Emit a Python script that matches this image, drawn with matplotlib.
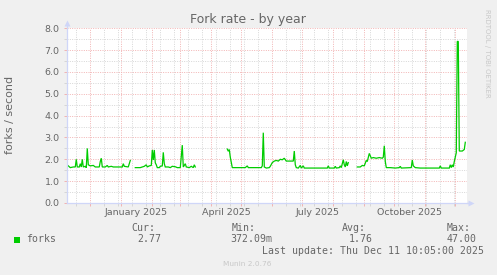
import numpy as np
import pandas as pd
import matplotlib
matplotlib.use("Agg")
import matplotlib.pyplot as plt
import matplotlib.dates as mdates
from matplotlib.patches import Rectangle

# ── data ───────────────────────────────────────────────────────────────
nan = np.nan
days = [
    "2024-11-08", "2024-11-11", "2024-11-14", "2024-11-16", "2024-11-17", "2024-11-18",
    "2024-11-20", "2024-11-21", "2024-11-22", "2024-11-23", "2024-11-24", "2024-11-26",
    "2024-11-27", "2024-11-28", "2024-11-29", "2024-12-01", "2024-12-04", "2024-12-06",
    "2024-12-10", "2024-12-11", "2024-12-12", "2024-12-13", "2024-12-16", "2024-12-18",
    "2024-12-19", "2024-12-22", "2024-12-24", "2025-01-02", "2025-01-03", "2025-01-04",
    "2025-01-08", "2025-01-10", "2025-01-12",
    "2025-01-15", "2025-01-20", "2025-01-24", "2025-01-26", "2025-01-27", "2025-01-29",
    "2025-01-31", "2025-02-01", "2025-02-02", "2025-02-03", "2025-02-04", "2025-02-05",
    "2025-02-06", "2025-02-08", "2025-02-09", "2025-02-11", "2025-02-12", "2025-02-13",
    "2025-02-14", "2025-02-17", "2025-02-19", "2025-02-21", "2025-02-24", "2025-02-26",
    "2025-03-01", "2025-03-03", "2025-03-04", "2025-03-06", "2025-03-07", "2025-03-10",
    "2025-03-12", "2025-03-14", "2025-03-15", "2025-03-16", "2025-03-20",
    "2025-04-17", "2025-04-18", "2025-04-19", "2025-04-20", "2025-04-21", "2025-04-22",
    "2025-04-30", "2025-05-05", "2025-05-07", "2025-05-08", "2025-05-15", "2025-05-21",
    "2025-05-22", "2025-05-23", "2025-05-24", "2025-05-26", "2025-05-29", "2025-05-30",
    "2025-06-01", "2025-06-03", "2025-06-05", "2025-06-07", "2025-06-09", "2025-06-11",
    "2025-06-13", "2025-06-15", "2025-06-19", "2025-06-22", "2025-06-23", "2025-06-24",
    "2025-06-25", "2025-06-27", "2025-06-29", "2025-06-30", "2025-07-02", "2025-07-03",
    "2025-07-09", "2025-07-19", "2025-07-26", "2025-07-27", "2025-07-28", "2025-08-02",
    "2025-08-03", "2025-08-04", "2025-08-07", "2025-08-08", "2025-08-09", "2025-08-11",
    "2025-08-12", "2025-08-13", "2025-08-14", "2025-08-15", "2025-08-16", "2025-08-20",
    "2025-08-25", "2025-08-28", "2025-08-30", "2025-09-01", "2025-09-03", "2025-09-04",
    "2025-09-06", "2025-09-08", "2025-09-10", "2025-09-13", "2025-09-16", "2025-09-19",
    "2025-09-20", "2025-09-21", "2025-09-22", "2025-09-23", "2025-09-27", "2025-10-02",
    "2025-10-06", "2025-10-07", "2025-10-08", "2025-10-18", "2025-10-19", "2025-10-20",
    "2025-10-22", "2025-10-27", "2025-11-06", "2025-11-15", "2025-11-16", "2025-11-17",
    "2025-11-25", "2025-11-26", "2025-11-27", "2025-11-28", "2025-11-29", "2025-11-30",
    "2025-12-01", "2025-12-02", "2025-12-03", "2025-12-04", "2025-12-05", "2025-12-08",
    "2025-12-10", "2025-12-11",
]
forks = [
    1.74, 1.62, 1.65, 1.65, 2.00, 1.65,
    1.65, 1.80, 1.65, 2.00, 1.65, 1.68,
    1.62, 2.50, 1.75, 1.70, 1.72, 1.65,
    1.65, 1.90, 2.05, 1.65, 1.65, 1.72,
    1.65, 1.68, 1.65, 1.65, 1.80, 1.68,
    1.65, 1.95, nan,
    1.62, 1.62, 1.68, 1.75, 1.65, 1.70,
    1.72, 2.43, 1.97, 2.43, 1.84, 1.75,
    1.62, 1.62, 1.68, 1.70, 2.32, 1.80,
    1.65, 1.65, 1.62, 1.68, 1.66, 1.62,
    1.62, 2.65, 1.65, 1.80, 1.65, 1.62,
    1.68, 1.62, 1.75, 1.65, nan,
    2.47, 2.37, 2.45, 2.10, 1.85, 1.62,
    1.62, 1.62, 1.70, 1.62, 1.62, 1.62,
    1.70, 3.22, 1.65, 1.60, 1.62, 1.68,
    1.85, 1.92, 1.95, 1.92, 2.00, 1.98,
    2.05, 1.92, 1.92, 1.92, 2.38, 1.75,
    1.62, 1.60, 1.72, 1.60, 1.70, 1.60,
    1.60, 1.60, 1.60, 1.70, 1.60, 1.60,
    1.68, 1.60, 1.62, 1.70, 1.62, 1.98,
    1.75, 1.65, 1.90, 1.70, 1.85, nan,
    1.65, 1.65, 1.72, 1.70, 1.95, 1.90,
    2.27, 2.05, 2.08, 2.05, 2.08, 2.05,
    2.10, 2.62, 1.90, 1.62, 1.62, 1.60,
    1.62, 1.68, 1.60, 1.62, 1.97, 1.70,
    1.62, 1.60, 1.60, 1.60, 1.70, 1.60,
    1.60, 1.75, 1.62, 1.75, 1.65, 1.90,
    2.10, 2.30, 7.40, 7.40, 2.38, 2.38,
    2.45, 2.78,
]

y_ticks = [0, 1, 2, 3, 4, 5, 6, 7, 8]
label_days = ["2025-01-16", "2025-04-16", "2025-07-16", "2025-10-16"]
label_text = ["January 2025", "April 2025", "July 2025", "October 2025"]

legend_cols = ["Cur:", "Min:", "Avg:", "Max:"]
legend_vals = ["2.77", "372.09m", "1.76", "47.00"]

# ── munin look ─────────────────────────────────────────────────────────
W, H = 497, 275
BACK = "#f0f0f0"
FONT = "#666666"
AXIS = "#cfd6f8"
GREEN = "#00cc00"
MGRID = "#f2b3b3"
GRID = "#d6d6d6"
DOT = (0, (1, 1.4))


def fx(px):
    return px / W


def fy(py):
    return 1 - py / H


fig = plt.figure(figsize=(W / 100, H / 100), dpi=100, facecolor=BACK)
left, right, top, bottom = 66.7, 466.7, 28.3, 203.0
ax = fig.add_axes([fx(left), fy(bottom), (right - left) / W, (bottom - top) / H])
ax.set_facecolor("white")

t = pd.to_datetime(days)
ax.plot(t, forks, color=GREEN, lw=0.9, solid_joinstyle="miter", zorder=3)

ax.set_xlim(pd.Timestamp("2024-11-07 10:00"), pd.Timestamp("2025-12-12 10:00"))
ax.set_ylim(0, 8)

# grid: months red, fortnights grey, half units grey
ax.xaxis.set_major_locator(mdates.MonthLocator())
minor_days = pd.date_range("2024-11-17", "2025-12-12", freq="14D")
ax.set_xticks(minor_days, minor=True)
ax.set_yticks(y_ticks)
ax.set_yticks(np.arange(0.5, 8, 1.0), minor=True)
ax.set_axisbelow(True)
ax.grid(which="minor", color=GRID, ls=DOT, lw=0.7)
ax.grid(which="major", color=MGRID, ls=DOT, lw=0.7)

ax.xaxis.set_major_formatter(plt.NullFormatter())
ax.yaxis.set_major_formatter(plt.FormatStrFormatter("%.1f"))
ax.tick_params(axis="x", which="major", length=2.2, width=0.7, color=MGRID)
ax.tick_params(axis="x", which="minor", length=2.2, width=0.7, color=GRID)
ax.tick_params(axis="y", which="major", length=2, width=0.7, color=MGRID,
               labelsize=6.8, labelcolor=FONT, pad=3.2)
ax.tick_params(axis="y", which="minor", length=2, width=0.7, color=GRID)

for s in ["top", "right"]:
    ax.spines[s].set_visible(False)
for s in ["left", "bottom"]:
    ax.spines[s].set_color(AXIS)
    ax.spines[s].set_linewidth(0.9)
    ax.spines[s].set_zorder(4)

# axis arrows
ax.plot([0, 0], [1, 1.03], color=AXIS, lw=0.9, transform=ax.transAxes, clip_on=False)
ax.plot([0], [1.028], marker="^", ms=4.2, color=AXIS, mec="none",
        transform=ax.transAxes, clip_on=False)
ax.plot([1, 1.008], [0, 0], color=AXIS, lw=0.9, transform=ax.transAxes, clip_on=False)
ax.plot([1.0095], [0], marker=">", ms=4.2, color=AXIS, mec="none",
        transform=ax.transAxes, clip_on=False)

for d, lab in zip(label_days, label_text):
    ax.text(pd.Timestamp(d), -0.056, lab, transform=ax.get_xaxis_transform(),
            ha="center", va="center", fontsize=6.8, color=FONT)

# texts
fig.text(fx(248), fy(19.5), "Fork rate - by year", ha="center", va="center",
         fontsize=9, color=FONT)
fig.text(fx(10.5), fy(115), "forks / second", rotation=90, ha="center", va="center",
         fontsize=8, color=FONT)
fig.text(fx(487.5), fy(53), "RRDTOOL / TOBI OETIKER", rotation=-90, ha="center",
         va="center", fontsize=5, color="#c8c8c8")

mono = dict(family="DejaVu Sans Mono", fontsize=7.1, color=FONT, va="center")
fig.patches.append(Rectangle((fx(14), fy(242.5)), 6 / W, 6 / H, transform=fig.transFigure,
                             facecolor=GREEN, edgecolor="none"))
fig.text(fx(26.5), fy(239.3), "forks", **mono)
col_x = [131.7, 232.0, 341.7, 446.7]
val_x = [137.7, 230.7, 348.3, 446.7]
for cx, vx, c, v in zip(col_x, val_x, legend_cols, legend_vals):
    fig.text(fx(cx), fy(227.7), c, **mono)
    fig.text(fx(vx), fy(239.3), v, **mono)
fig.text(fx(261.7), fy(251.2), "Last update: Thu Dec 11 10:05:00 2025", **mono)
fig.text(fx(247.5), fy(264.2), "Munin 2.0.76", ha="center", va="center",
         fontsize=5.3, color="#c8c8c8")

fig.savefig("out.png", dpi=100, facecolor=BACK)
